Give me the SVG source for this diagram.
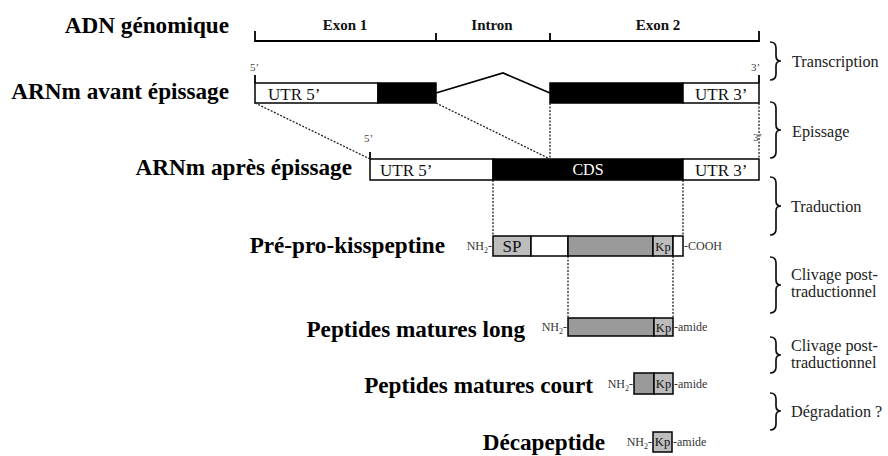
<svg xmlns="http://www.w3.org/2000/svg" width="888" height="456" viewBox="0 0 888 456" font-family="'Liberation Serif', 'DejaVu Serif', serif">
<style>
text{font-family:'Liberation Serif','DejaVu Serif',serif;fill:#111}
.big{font-size:23.2px;font-weight:bold;text-anchor:end;fill:#000}
.hd{font-size:15px;font-weight:bold;text-anchor:middle}
.utr{font-size:17px}
.step{font-size:16.2px;fill:#222}
.sm{font-size:12px;fill:#333}
.pr{font-size:11px;fill:#444}
.box{stroke:#000;stroke-width:1.5}
.w{fill:#fff}
.k{fill:#000}
.g{fill:#9a9a9a}
.lg{fill:#bdbdbd}
.dot{stroke:#222;stroke-width:1.3;stroke-dasharray:2 1.5;fill:none}
.ln{stroke:#000;stroke-width:1.8;fill:none}
.br{stroke:#111;stroke-width:1.7;fill:none}
</style>

<g id="labels">
<text class="big" x="229" y="33">ADN génomique</text>
<text class="big" x="229" y="99">ARNm avant épissage</text>
<text class="big" x="352" y="175">ARNm après épissage</text>
<text class="big" x="445" y="253">Pré-pro-kisspeptine</text>
<text class="big" x="525" y="337">Peptides matures long</text>
<text class="big" x="593" y="393">Peptides matures court</text>
<text class="big" x="605" y="450">Décapeptide</text>
</g>

<g id="adn">
<path class="ln" d="M255,31 V41 H759 V31 M436,33 V41 M550,33 V41"/>
<text class="hd" x="345" y="30">Exon 1</text>
<text class="hd" x="492" y="30">Intron</text>
<text class="hd" x="658" y="30">Exon 2</text>
</g>

<g id="arnm-avant">
<rect class="box w" x="255" y="83" width="123" height="20"/>
<rect class="box k" x="378" y="83" width="58" height="20"/>
<rect class="box k" x="550" y="83" width="133" height="20"/>
<rect class="box w" x="683" y="83" width="76" height="20"/>
<path class="ln" d="M255,75 V83 M759,75 V83"/>
<text class="utr" x="268" y="100">UTR 5’</text>
<text class="utr" x="695" y="100">UTR 3’</text>
<text class="pr" x="250" y="71">5’</text>
<text class="pr" x="751" y="71">3’</text>
</g>

<g id="arnm-apres">
<rect class="box w" x="370" y="159" width="123" height="21"/>
<rect class="box k" x="493" y="159" width="190" height="21"/>
<rect class="box w" x="683" y="159" width="76" height="21"/>
<path class="ln" d="M370,152 V159"/>
<text class="utr" x="380" y="176">UTR 5’</text>
<text class="utr" x="588" y="175" style="fill:#fff;text-anchor:middle;font-size:16px">CDS</text>
<text class="utr" x="695" y="176">UTR 3’</text>
<text class="pr" x="364" y="142">5’</text>
<text class="pr" x="753" y="141">3’</text>
</g>

<g id="pre-pro-kisspeptine">
<rect class="box lg" x="493" y="236" width="38" height="20"/>
<rect class="box w" x="531" y="236" width="37" height="20"/>
<rect class="box g" x="568" y="236" width="85" height="20"/>
<rect class="box lg" x="653" y="236" width="20" height="20"/>
<rect class="box w" x="673" y="236" width="10" height="20"/>
<text x="512" y="252" style="font-size:17px;text-anchor:middle">SP</text>
<text x="663" y="251" style="font-size:12.5px;text-anchor:middle">Kp</text>
<text class="sm" x="492" y="250" text-anchor="end">NH<tspan font-size="8" dy="3">2</tspan><tspan dy="-3">-</tspan></text>
<text class="sm" x="684" y="250">-COOH</text>
</g>

<g id="peptide-long">
<rect class="box g" x="568" y="318" width="86" height="18"/>
<rect class="box lg" x="654" y="318" width="19" height="18"/>
<text x="663.5" y="332" style="font-size:12.5px;text-anchor:middle">Kp</text>
<text class="sm" x="567" y="331" text-anchor="end">NH<tspan font-size="8" dy="3">2</tspan><tspan dy="-3">-</tspan></text>
<text class="sm" x="674" y="331">-amide</text>
</g>

<g id="peptide-court">
<rect class="box g" x="634" y="373" width="20" height="21"/>
<rect class="box lg" x="654" y="373" width="19" height="21"/>
<text x="663.5" y="388" style="font-size:12.5px;text-anchor:middle">Kp</text>
<text class="sm" x="633" y="388" text-anchor="end">NH<tspan font-size="8" dy="3">2</tspan><tspan dy="-3">-</tspan></text>
<text class="sm" x="674" y="388">-amide</text>
</g>

<g id="decapeptide">
<rect class="box lg" x="653" y="432" width="19" height="20"/>
<text x="662.5" y="446" style="font-size:12.5px;text-anchor:middle">Kp</text>
<text class="sm" x="652" y="446" text-anchor="end">NH<tspan font-size="8" dy="3">2</tspan><tspan dy="-3">-</tspan></text>
<text class="sm" x="673" y="446">-amide</text>
</g>

<g id="connectors">
<polyline class="ln" points="436,93 503,73 550,93"/>
<path class="dot" d="M255,103 L370,159 M436,103 L550,159 M550,103 V159 M759,103 V159 M493,180 V236 M683,180 V236 M568,256 V318 M673,256 V318"/>
</g>

<g id="steps">
<path class="br" d="M770,42 Q776,42 776,48 V56 Q776,61 781,61 Q776,61 776,66 V74 Q776,80 770,80"/>
<text class="step" x="792" y="67">Transcription</text>
<path class="br" d="M770,102 Q776,102 776,108 V125 Q776,130 781,130 Q776,130 776,135 V152 Q776,158 770,158"/>
<text class="step" x="792" y="137">Epissage</text>
<path class="br" d="M770,177 Q776,177 776,183 V201 Q776,206 781,206 Q776,206 776,211 V229 Q776,235 770,235"/>
<text class="step" x="791" y="212">Traduction</text>
<path class="br" d="M770,257 Q776,257 776,263 V280 Q776,285 781,285 Q776,285 776,290 V307 Q776,313 770,313"/>
<text class="step" x="791" y="280">Clivage post-</text>
<text class="step" x="791" y="297">traductionnel</text>
<path class="br" d="M770,337 Q776,337 776,343 V350 Q776,355 781,355 Q776,355 776,360 V367 Q776,373 770,373"/>
<text class="step" x="791" y="351">Clivage post-</text>
<text class="step" x="791" y="368">traductionnel</text>
<path class="br" d="M770,393 Q776,393 776,399 V406 Q776,411 781,411 Q776,411 776,416 V424 Q776,430 770,430"/>
<text class="step" x="791" y="417">Dégradation ?</text>
</g>
</svg>
